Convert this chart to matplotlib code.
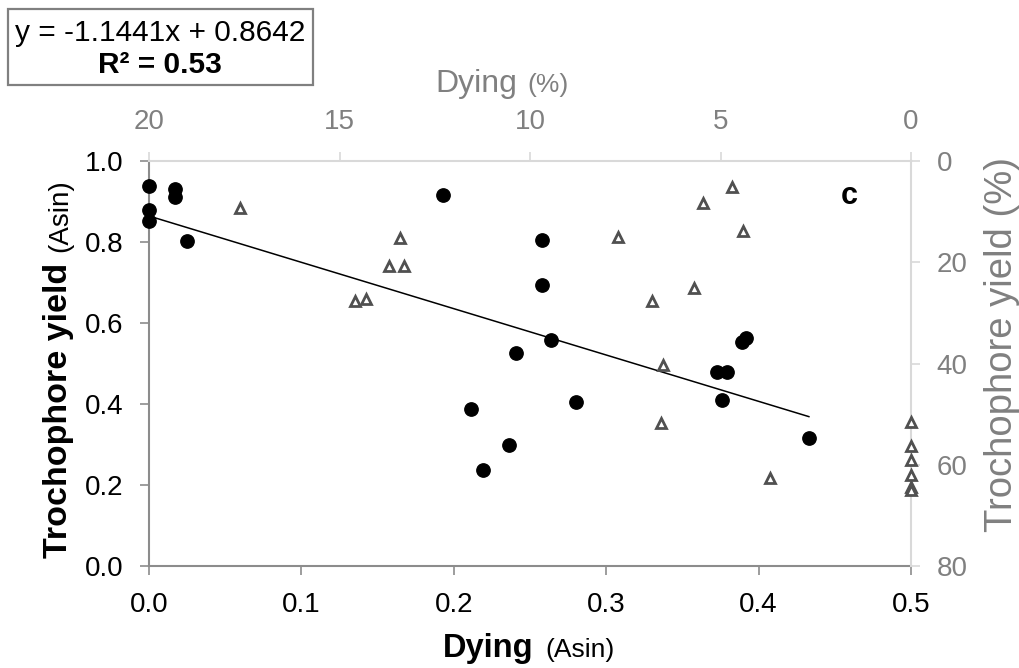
import numpy as np
import matplotlib.pyplot as plt
from matplotlib.patches import Rectangle
from matplotlib.ticker import FormatStrFormatter

plt.rcParams['font.family'] = ['Liberation Sans', 'DejaVu Sans']

# black circles: arcsine values (bottom / left axes)
dying_asin = [0.0, 0.0, 0.0, 0.017, 0.017, 0.025, 0.193, 0.258, 0.258, 0.264, 0.241,
              0.211, 0.280, 0.236, 0.219, 0.389, 0.392, 0.373, 0.379, 0.376, 0.433]
yield_asin = [0.939, 0.880, 0.852, 0.930, 0.912, 0.803, 0.917, 0.806, 0.695, 0.558, 0.527,
              0.387, 0.405, 0.300, 0.238, 0.553, 0.564, 0.478, 0.478, 0.409, 0.315]

# grey triangles: raw percentages (top / right axes)
dying_pct = [17.6, 13.4, 13.7, 13.3, 14.6, 14.3, 7.7, 5.7, 6.8, 4.7, 5.45,
             4.4, 6.5, 6.55, 3.7, 0, 0, 0, 0, 0, 0]
yield_pct = [9.2, 15.2, 20.7, 20.7, 27.7, 27.3, 15.0, 25.0, 27.6, 5.2, 8.2,
             13.8, 40.3, 51.8, 62.7, 51.5, 56.3, 59.1, 62.0, 64.3, 65.0]

slope = -1.1441
intercept = 0.8642
r2 = 0.53

asin_xticks = [0.0, 0.1, 0.2, 0.3, 0.4, 0.5]
asin_yticks = [0.0, 0.2, 0.4, 0.6, 0.8, 1.0]
pct_xticks = [20, 15, 10, 5, 0]
pct_yticks = [0, 20, 40, 60, 80]

dark = '#8c8c8c'
light = '#d9d9d9'
grey_txt = '#808080'

fig = plt.figure(figsize=(10.2, 6.68), dpi=100)
rect = [149 / 1020, 1 - 566 / 668, 762 / 1020, 405 / 668]

ax = fig.add_axes(rect)
ax.set_xlim(0, 0.5)
ax.set_ylim(0, 1.0)
ax.set_xticks(asin_xticks)
ax.set_yticks(asin_yticks)
ax.xaxis.set_major_formatter(FormatStrFormatter('%.1f'))
ax.yaxis.set_major_formatter(FormatStrFormatter('%.1f'))
for s in ['top', 'right']:
    ax.spines[s].set_visible(False)
for s in ['left', 'bottom']:
    ax.spines[s].set_color(dark)
    ax.spines[s].set_linewidth(1.5)
ax.tick_params(direction='out', length=6.5, width=1.2, color=dark,
               labelsize=20, pad=12, labelcolor='black')

# regression line
xs = np.array([min(dying_asin), max(dying_asin)])
ax.plot(xs, slope * xs + intercept, color='black', lw=1.1, zorder=3)
ax.plot(dying_asin, yield_asin, 'o', color='black', ms=9.6, clip_on=False, zorder=4)

ax2 = fig.add_axes(rect)
ax2.patch.set_visible(False)
ax2.set_xlim(20, 0)
ax2.set_ylim(80, 0)
ax2.xaxis.tick_top()
ax2.yaxis.tick_right()
ax2.set_xticks(pct_xticks)
ax2.set_yticks(pct_yticks)
for s in ['left', 'bottom']:
    ax2.spines[s].set_visible(False)
for s in ['top', 'right']:
    ax2.spines[s].set_color(light)
    ax2.spines[s].set_linewidth(1.5)
ax2.tick_params(direction='out', length=6.5, width=1.2, color=light,
                labelsize=20, pad=12, labelcolor=grey_txt)
ax2.plot(dying_pct, yield_pct, '^', mfc='white', mec='#505050', mew=2.0, ms=7.3,
         clip_on=False, zorder=3)

ax2.text((849 - 149) / 762, 1 - (196 - 161) / 405, 'c', transform=ax2.transAxes,
         fontsize=22, fontweight='bold', ha='center', va='center')

# axis titles
fig.text(443 / 1020, 1 - 657 / 668, 'Dying', fontsize=23.5, fontweight='bold', va='baseline')
fig.text(545 / 1020, 1 - 657 / 668, '(Asin)', fontsize=19, va='baseline')

fig.text(435 / 1020, 1 - 92 / 668, 'Dying', fontsize=23, color=grey_txt, va='baseline')
fig.text(527 / 1020, 1 - 92 / 668, '(%)', fontsize=19, color=grey_txt, va='baseline')

fig.text(67 / 1020, 1 - 558 / 668, 'Trochophore yield', fontsize=24.5, fontweight='bold',
         rotation=90, rotation_mode='anchor', ha='left', va='baseline')
fig.text(67 / 1020, 1 - 252 / 668, '(Asin)', fontsize=20,
         rotation=90, rotation_mode='anchor', ha='left', va='baseline')

fig.text(1012 / 1020, 1 - 532 / 668, 'Trochophore yield (%)', fontsize=27.5, color=grey_txt,
         rotation=90, rotation_mode='anchor', ha='left', va='baseline')

# equation box
fig.patches.append(Rectangle((8 / 1020, 1 - 85 / 668), 305 / 1020, 76 / 668,
                             transform=fig.transFigure, facecolor='white',
                             edgecolor='#808080', lw=1.6))
fig.text(160 / 1020, 1 - 33 / 668, f'y = {slope:.4f}x + {intercept:.4f}',
         fontsize=21.5, ha='center', va='center')
fig.text(160 / 1020, 1 - 65 / 668, f'R² = {r2:.2f}', fontsize=21.5, fontweight='bold',
         ha='center', va='center')

fig.savefig('out.png', dpi=100)
